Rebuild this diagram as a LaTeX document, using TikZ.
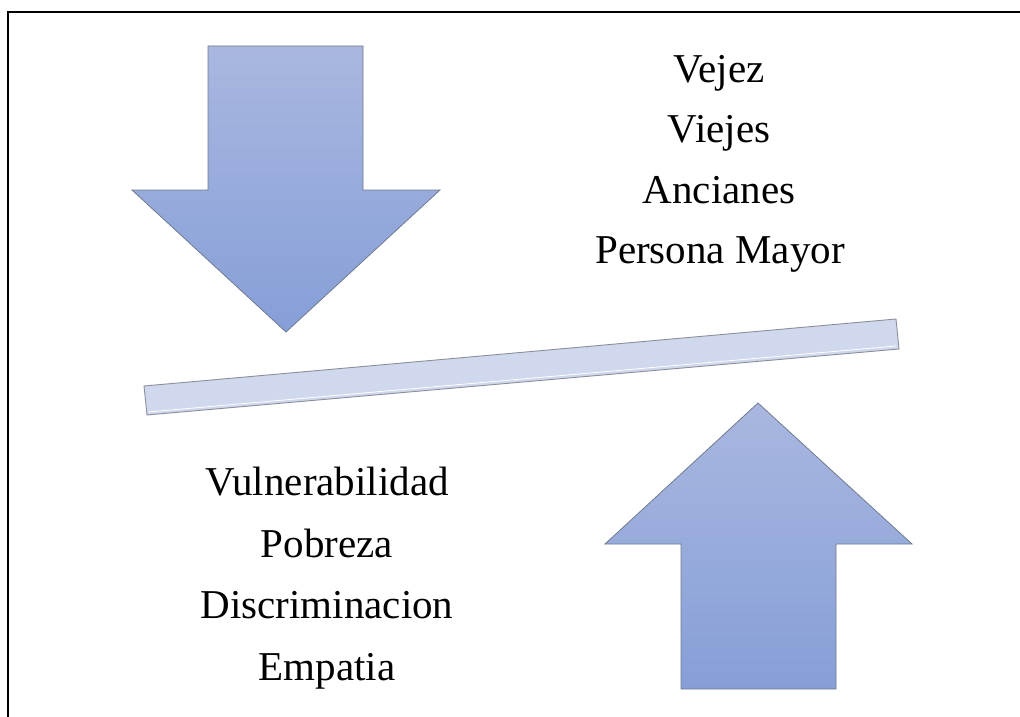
\documentclass[tikz,border=0pt]{standalone}
\usepackage{fontspec}
\setmainfont{Liberation Serif}
\definecolor{arrtop}{HTML}{A9B7E0}
\definecolor{arrbot}{HTML}{869FD7}
\definecolor{arrline}{HTML}{6F7B8F}
\definecolor{barfill}{HTML}{D0D8EE}
\definecolor{barline}{HTML}{8A8F99}
\begin{document}
\begin{tikzpicture}[x=1pt,y=-1pt,
  bigarrow/.style={top color=arrtop,bottom color=arrbot,draw=arrline,line width=0.8pt,line join=miter},
  wordlist/.style={font=\fontsize{41}{61}\selectfont,align=center,inner sep=0pt,anchor=base},
  framestroke/.style={line width=1.4pt,black}]
\useasboundingbox (0,0) rectangle (1020,717);
\fill[white] (0,0) rectangle (1020,717);
% frame (open at right and bottom)
\coordinate (fTR) at (1020,12);
\coordinate (fTL) at (8,12);
\coordinate (fBL) at (8,717);
\draw[framestroke] (fTR) -- (fTL) -- (fBL);
% down arrow
\shade[bigarrow] (208,46) -- (363,46) -- (363,190) -- (440,190) -- (286,332) -- (132,190) -- (208,190) -- cycle;
% up arrow
\shade[bigarrow] (758,403) -- (912,544) -- (836,544) -- (836,689) -- (681,689) -- (681,544) -- (605,544) -- cycle;
% tilted bar
\filldraw[fill=barfill,draw=barline,line width=0.9pt] (144,386) -- (896,319) -- (899,349) -- (147,415) -- cycle;
\draw[white,line width=0.8pt] (148,412) -- (896,346);
% texts
\node[wordlist] (t1) at (719,82) {Vejez};
\node[wordlist] (t2) at (719,142) {Viejes};
\node[wordlist] (t3) at (719,203) {Ancianes};
\node[wordlist] (t4) at (720,263) {Persona Mayor};
\node[wordlist] (b1) at (327,495) {Vulnerabilidad};
\node[wordlist] (b2) at (327,557) {Pobreza};
\node[wordlist] (b3) at (327,618) {Discriminacion};
\node[wordlist] (b4) at (327,680) {Empatia};
\end{tikzpicture}
\end{document}
